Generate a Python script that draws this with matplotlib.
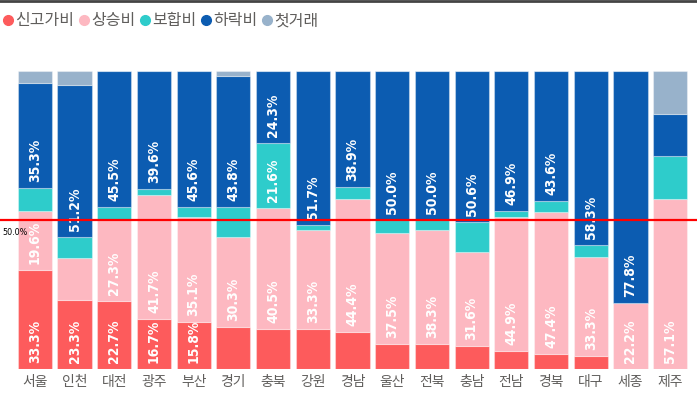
import matplotlib
matplotlib.use("Agg")
import matplotlib.pyplot as plt
from matplotlib.lines import Line2D
from matplotlib import font_manager
import numpy as np

plt.rcParams["font.family"] = ["Noto Sans CJK KR", "DejaVu Sans"]

# 지역별 비율 (%)
regions = ["서울", "인천", "대전", "광주", "부산", "경기", "충북", "강원", "경남",
           "울산", "전북", "충남", "전남", "경북", "대구", "세종", "제주"]
new_high = [33.3, 23.3, 22.7, 16.7, 15.8, 14.0, 13.5, 13.3, 12.5, 8.3, 8.3, 7.6, 6.1, 5.1, 4.2, 0, 0]
rise = [19.6, 14.0, 27.3, 41.7, 35.1, 30.3, 40.5, 33.3, 44.4, 37.5, 38.3, 31.6, 44.9, 47.4, 33.3, 22.2, 57.1]
flat = [7.8, 7.0, 4.5, 2.1, 3.5, 10.1, 21.6, 1.7, 4.2, 4.2, 3.3, 10.1, 2.0, 3.8, 4.2, 0, 14.3]
fall = [35.3, 51.2, 45.5, 39.6, 45.6, 43.8, 24.3, 51.7, 38.9, 50.0, 50.0, 50.6, 46.9, 43.6, 58.3, 77.8, 14.3]
first = [3.9, 4.7, 0, 0, 0, 1.7, 0, 0, 0, 0, 0, 0, 0, 0, 0, 0, 14.3]

series = [("신고가비", new_high, "#FD5B5C"),
          ("상승비", rise, "#FDB8C1"),
          ("보합비", flat, "#2ECCCB"),
          ("하락비", fall, "#0C5CB1"),
          ("첫거래", first, "#98B2CB")]

data = np.array([s[1] for s in series], dtype=float)
totals = data.sum(axis=0)
frac = data / totals

# 좁은 글꼴이 있으면 사용
names = {f.name for f in font_manager.fontManager.ttflist}
condensed = [f for f in font_manager.fontManager.ttflist
             if f.name == "DejaVu Sans" and "condensed" in str(f.stretch).lower()]
if "Liberation Sans Narrow" in names:
    label_kw = dict(family=["Liberation Sans Narrow"], fontsize=10.5)
elif condensed:
    label_kw = dict(family=["DejaVu Sans"], fontstretch="condensed", fontsize=10)
else:
    label_kw = dict(family=["DejaVu Sans"], fontsize=9)

fig = plt.figure(figsize=(6.97, 3.95), dpi=100)
W, H = 697, 395
ax = fig.add_axes([15 / W, (H - 369) / H, 675 / W, 298 / H])

x = np.arange(len(regions))
bottom = np.zeros(len(regions))

for i, (name, vals, color) in enumerate(series):
    ax.bar(x, frac[i], 0.86, bottom=bottom, color=color,
           edgecolor=(1, 1, 1, 0.35), linewidth=0.8)
    for j in range(len(regions)):
        if vals[j] >= 15:
            ax.annotate(f"{vals[j]:.1f}%", (x[j], bottom[j]), xytext=(0, 6),
                        textcoords="offset pixels", rotation=90,
                        ha="center", va="bottom", color="white",
                        fontweight="bold", **label_kw)
    bottom += frac[i]

ax.set_xlim(-0.5, len(regions) - 0.5)
ax.set_ylim(0, 1)
ax.set_yticks([])
ax.set_xticks(x)
ax.set_xticklabels(regions, fontsize=10, color="#605E5C")
ax.tick_params(axis="x", length=0, pad=4)
for sp in ax.spines.values():
    sp.set_visible(False)

# 50% 기준선
ax.axhline(0.5, xmin=-15 / 675, xmax=1.011, color="#FF0000", lw=1.6,
           clip_on=False, zorder=5)
ax.annotate("50.0%", (0, 0.5), xycoords=("figure fraction", "data"),
            xytext=(2, -8), textcoords="offset pixels", ha="left", va="top",
            fontsize=5.8, color="black", family=["DejaVu Sans"])

# 범례
handles = [Line2D([], [], marker="o", ls="", color=c, markersize=7)
           for _, _, c in series]
fig.legend(handles, [s[0] for s in series], loc="center left",
           bbox_to_anchor=(0, 1 - 21 / H), ncol=5, frameon=False,
           handlelength=0.6, handletextpad=0.15, columnspacing=0.3,
           borderaxespad=0, borderpad=0.2, fontsize=11.5, labelcolor="#605E5C")

# 상단 테두리
fig.add_artist(Line2D([0, 1], [1 - 1 / H, 1 - 1 / H], transform=fig.transFigure,
                      color="#444444", lw=2))

fig.savefig("out.png", dpi=100)
